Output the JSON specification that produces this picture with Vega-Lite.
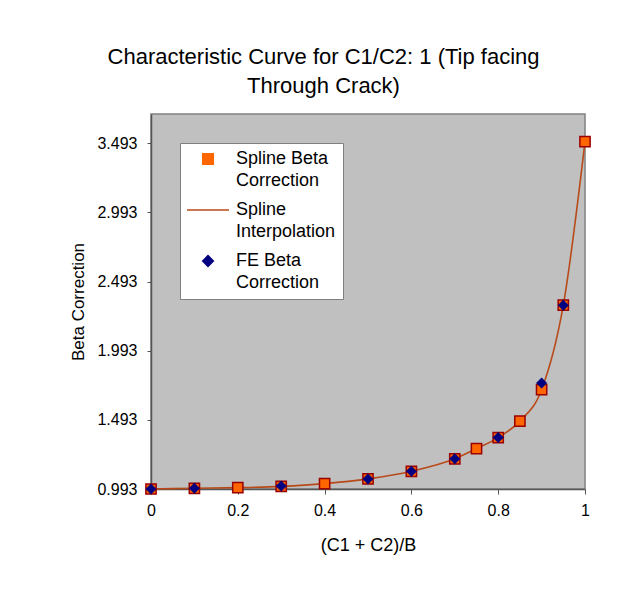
{
  "$schema": "https://vega.github.io/schema/vega-lite/v6.json",
  "width": 434,
  "height": 375,
  "autosize": {"type": "none"},
  "padding": {"left": 151, "top": 114, "right": 58, "bottom": 114},
  "background": "#ffffff",
  "title": {
    "text": ["Characteristic Curve for C1/C2: 1 (Tip facing", "Through Crack)"],
    "font": "Liberation Sans",
    "fontSize": 22,
    "fontWeight": "normal",
    "color": "#000000",
    "anchor": "middle",
    "frame": "bounds",
    "lineHeight": 29,
    "offset": 16,
    "dx": -8
  },
  "datasets": {
    "spline": [
      {"x": 0.0, "beta": 0.993},
      {"x": 0.1, "beta": 0.998},
      {"x": 0.2, "beta": 1.003},
      {"x": 0.3, "beta": 1.012},
      {"x": 0.4, "beta": 1.032},
      {"x": 0.5, "beta": 1.066},
      {"x": 0.6, "beta": 1.121},
      {"x": 0.7, "beta": 1.211},
      {"x": 0.75, "beta": 1.285},
      {"x": 0.8, "beta": 1.365},
      {"x": 0.85, "beta": 1.484},
      {"x": 0.9, "beta": 1.711},
      {"x": 0.95, "beta": 2.322},
      {"x": 1.0, "beta": 3.505}
    ],
    "fe": [
      {"x": 0.0, "beta": 0.993},
      {"x": 0.1, "beta": 0.998},
      {"x": 0.3, "beta": 1.014},
      {"x": 0.5, "beta": 1.066},
      {"x": 0.6, "beta": 1.121},
      {"x": 0.7, "beta": 1.211},
      {"x": 0.8, "beta": 1.365},
      {"x": 0.9, "beta": 1.759},
      {"x": 0.95, "beta": 2.322}
    ]
  },
  "encoding": {
    "x": {
      "field": "x",
      "type": "quantitative",
      "scale": {"domain": [0, 1], "nice": false, "zero": false},
      "axis": {
        "title": "(C1 + C2)/B",
        "values": [0, 0.2, 0.4, 0.6, 0.8, 1],
        "format": "~g",
        "labelFlush": false,
        "grid": false,
        "tickSize": 5,
        "labelPadding": 8,
        "titlePadding": 18,
        "titleFontSize": 18
      }
    },
    "y": {
      "field": "beta",
      "type": "quantitative",
      "scale": {"domain": [0.993, 3.705], "nice": false, "zero": false},
      "axis": {
        "title": "Beta Correction",
        "values": [0.993, 1.493, 1.993, 2.493, 2.993, 3.493],
        "format": ".3f",
        "labelFlush": false,
        "grid": false,
        "tickSize": 4,
        "labelPadding": 10,
        "titlePadding": 9
      }
    }
  },
  "layer": [
    {
      "data": {"name": "spline"},
      "mark": {"type": "line", "interpolate": "monotone", "strokeWidth": 1.6, "stroke": "#b84a1a"},
      "encoding": {
        "color": {
          "datum": "Spline Interpolation",
          "scale": {
            "domain": ["Spline Beta Correction", "Spline Interpolation", "FE Beta Correction"],
            "range": ["#ff6600", "#b84a1a", "#000080"]
          },
          "legend": {
            "title": null,
            "orient": "top-left",
            "offset": 29,
            "fillColor": "#ffffff",
            "strokeColor": "#808080",
            "padding": 7,
            "cornerRadius": 0,
            "labelFont": "Liberation Sans",
            "labelFontSize": 18,
            "labelColor": "#000000",
            "labelLimit": 0,
            "labelOffset": 19,
            "symbolOffset": 12,
            "rowPadding": 11,
            "symbolSize": 1764,
            "labelExpr": "datum.label == 'Spline Beta Correction' ? ['Spline Beta', 'Correction'] : datum.label == 'Spline Interpolation' ? ['Spline', 'Interpolation'] : ['FE Beta', 'Correction']",
            "encode": {
              "labels": {
                "update": {
                  "lineHeight": {"value": 22}
                }
              },
              "symbols": {
                "update": {
                  "shape": {"signal": "datum.value == 'Spline Beta Correction' ? 'square' : datum.value == 'Spline Interpolation' ? 'stroke' : 'diamond'"},
                  "size": {"signal": "datum.value == 'Spline Interpolation' ? 1764 : 110"},
                  "fill": {"signal": "datum.value == 'Spline Beta Correction' ? '#ff6600' : datum.value == 'Spline Interpolation' ? 'transparent' : '#000080'"},
                  "stroke": {"signal": "datum.value == 'Spline Beta Correction' ? '#990000' : datum.value == 'Spline Interpolation' ? '#b84a1a' : '#000080'"},
                  "strokeWidth": {"value": 1.6},
                  "opacity": {"value": 1}
                }
              }
            }
          }
        }
      }
    },
    {
      "data": {"name": "spline"},
      "mark": {"type": "point", "shape": "square", "filled": true, "size": 105, "fill": "#ff6600", "stroke": "#990000", "strokeWidth": 1.5, "opacity": 1},
      "encoding": {"color": {"datum": "Spline Beta Correction"}}
    },
    {
      "data": {"name": "fe"},
      "mark": {"type": "point", "shape": "diamond", "filled": true, "size": 110, "fill": "#000080", "stroke": "#000080", "strokeWidth": 0.5, "opacity": 1},
      "encoding": {"color": {"datum": "FE Beta Correction"}}
    }
  ],
  "config": {
    "view": {"fill": "#c0c0c0", "stroke": "#808080", "strokeWidth": 1.5},
    "axis": {
      "labelFont": "Liberation Sans",
      "labelFontSize": 16,
      "labelColor": "#000000",
      "titleFont": "Liberation Sans",
      "titleFontSize": 17,
      "titleFontWeight": "normal",
      "titleColor": "#000000",
      "domainColor": "#555555",
      "domainWidth": 1.5,
      "tickColor": "#555555",
      "tickWidth": 1
    }
  }
}
